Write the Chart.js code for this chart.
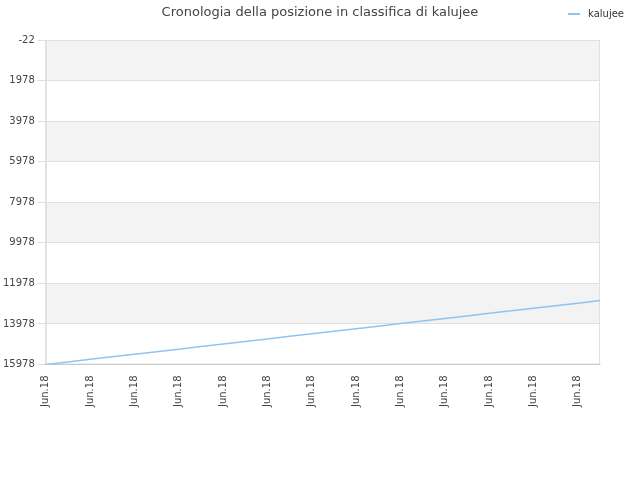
<!DOCTYPE html>
<html><head><meta charset="utf-8">
<script src="https://cdn.jsdelivr.net/npm/chart.js@4/dist/chart.umd.min.js"></script>
<style>html,body{margin:0;padding:0;background:#fff}#w{position:relative;width:640px;height:480px;font-family:'DejaVu Sans'}
#t{position:absolute;top:4px;left:0;width:640px;text-align:center;font-size:13px;color:#444}
#l{position:absolute;top:8px;right:16px;font-size:10px;color:#333}
#l span{display:inline-block;width:12px;height:2px;background:#90c4f0;vertical-align:middle;margin-right:8px}</style>
</head><body><div id="w"><div id="t">Cronologia della posizione in classifica di kalujee</div><div id="l"><span></span>kalujee</div><canvas id="c"></canvas></div>
<script>
const categories = Array(26).fill('Jun.18');
const rankValues = [15978,15852,15726,15600,15474,15348,15222,15096,14970,14844,14718,14592,14466,14340,14214,14088,13962,13836,13710,13584,13458,13332,13206,13080,12954,12828];
const yTicks = [-22,1978,3978,5978,7978,9978,11978,13978,15978];
const bands = {id:'bands',beforeDraw(ch){const {ctx,chartArea:a,scales:{y}}=ch;ctx.save();ctx.fillStyle='#f3f3f3';
for(let i=0;i<yTicks.length-1;i+=2){const t=y.getPixelForValue(yTicks[i]),b=y.getPixelForValue(yTicks[i+1]);ctx.fillRect(a.left,t,a.right-a.left,b-t);}
ctx.strokeStyle='#e0e0e0';ctx.lineWidth=1;ctx.strokeRect(a.left+0.5,a.top+0.5,a.right-a.left-1,a.bottom-a.top-1);ctx.restore();}};
new Chart(document.getElementById('c'),{type:'line',
data:{labels:categories,datasets:[{label:'kalujee',data:rankValues,borderColor:'#90c4f0',borderWidth:1.5,pointRadius:0,fill:false,tension:0}]},
options:{responsive:true,maintainAspectRatio:false,animation:false,
layout:{padding:{left:0,right:40,top:40,bottom:70}},
plugins:{title:{display:false},legend:{display:false}},
scales:{x:{offset:false,grid:{display:false},ticks:{maxRotation:90,minRotation:90,autoSkip:false,color:'#444',font:{family:'DejaVu Sans',size:10},callback:(v,i)=>i%2===0?categories[i]:null}},
y:{reverse:true,min:-22,max:15978,afterBuildTicks:s=>{s.ticks=yTicks.map(v=>({value:v}))},grid:{color:'#e0e0e0'},ticks:{color:'#444',font:{family:'DejaVu Sans',size:10},callback:v=>String(v)}}}},
plugins:[bands]});
</script></body></html>
